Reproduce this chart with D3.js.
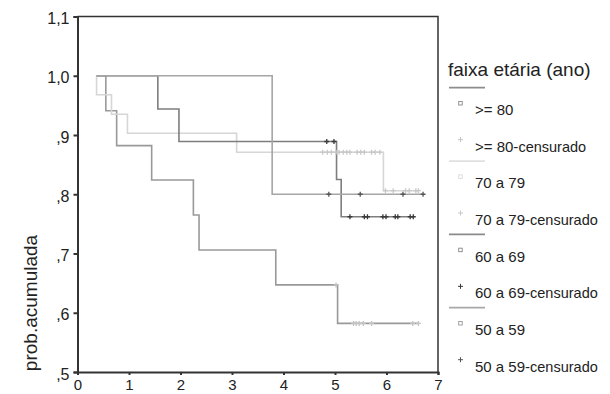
<!DOCTYPE html>
<html>
<head>
<meta charset="utf-8">
<script src="https://cdn.jsdelivr.net/npm/d3@7"></script>
<style>
  body { margin: 0; background: #fff; }
  svg { display: block; font-family: "Liberation Sans", Arial, sans-serif; }
</style>
</head>
<body>
<div id="chart"></div>
<script>
const width = 610;
const height = 394;

// groups, in legend order
const groups = [">= 80", "70 a 79", "60 a 69", "50 a 59"];
const startTime = 0.37;

// step times / survival after each drop, censored times
const events80 = [0.55, 0.76, 1.44, 2.25, 2.36, 3.85, 5.05];
const surv80 = [0.941, 0.882, 0.824, 0.765, 0.706, 0.647, 0.582];
const censor80 = [5.02, 5.36, 5.41, 5.47, 5.55, 5.71, 6.51, 6.62];

const events70 = [0.37, 0.66, 0.97, 3.09, 5.94];
const surv70 = [0.968, 0.935, 0.903, 0.871, 0.806];
const censor70 = [4.76, 4.85, 4.93, 5.02, 5.08, 5.16, 5.23, 5.29, 5.43, 5.50, 5.57, 5.71, 5.78, 5.87,
                  5.98, 6.13, 6.37, 6.44, 6.57, 6.62];

const events60 = [1.56, 1.97, 5.03, 5.12];
const surv60 = [0.944, 0.889, 0.825, 0.762];
const censor60 = [4.84, 4.98, 5.29, 5.57, 5.63, 5.93, 5.99, 6.17, 6.22, 6.46, 6.52];

const events50 = [3.78];
const surv50 = [0.8];
const censor50 = [4.88, 5.49, 6.32, 6.71];

const yTicks = [0.5, 0.6, 0.7, 0.8, 0.9, 1.0, 1.1];
const xTicks = [0, 1, 2, 3, 4, 5, 6, 7];

const lineColor = ["#999", "#d6d6d6", "#7e7e7e", "#a6a6a6"];
const markColor = ["#c4c4c4", "#c8c8c8", "#3a3a3a", "#555"];
const legendLine = ["#8c8c8c", "#e0e0e0", "#8a8a8a", "#a8a8a8"];
const legendSquare = ["#888", "#dadada", "#888", "#999"];

const data = [
  {events: events80, surv: surv80, censor: censor80},
  {events: events70, surv: surv70, censor: censor70},
  {events: events60, surv: surv60, censor: censor60},
  {events: events50, surv: surv50, censor: censor50}
];

const x = d3.scaleLinear().domain([0, 7]).range([77.5, 438]);
const y = d3.scaleLinear().domain([0.5, 1.1]).range([372, 16.5]);

const svg = d3.select("#chart")
    .append("svg")
    .attr("width", width)
    .attr("height", height)
    .attr("viewBox", [0, 0, width, height]);

const commaFmt = v => d3.format(".1f")(v).replace(/^0\./, ",").replace(".", ",");

// frame top/right
svg.append("path")
    .attr("d", `M${x(0)},${y(1.1)}H${x(7)}V${y(0.5)}`)
    .attr("fill", "none")
    .attr("stroke", "#333")
    .attr("stroke-width", 1.5);

// curves
const line = d3.line()
    .x(d => x(d[0]))
    .y(d => y(d[1]))
    .curve(d3.curveStepAfter);

data.forEach((g, i) => {
  const last = Math.max(d3.max(g.censor), d3.max(g.events));
  const pts = [[startTime, 1]];
  g.events.forEach((t, k) => pts.push([t, g.surv[k]]));
  pts.push([last, g.surv[g.surv.length - 1]]);
  svg.append("path")
      .attr("d", line(pts))
      .attr("fill", "none")
      .attr("stroke", lineColor[i])
      .attr("stroke-width", 1.6);
});

// censor marks
data.forEach((g, i) => {
  const survAt = t => {
    let s = 1;
    g.events.forEach((e, k) => { if (e <= t) s = g.surv[k]; });
    return s;
  };
  svg.append("g")
    .selectAll("path")
    .data(g.censor)
    .join("path")
      .attr("d", t => {
        const cx = x(t), cy = y(survAt(t));
        return `M${cx - 2.5},${cy}H${cx + 2.5}M${cx},${cy - 2.5}V${cy + 2.5}`;
      })
      .attr("stroke", markColor[i])
      .attr("stroke-width", 1.3);
});

// axes
const yAxis = svg.append("g")
    .attr("transform", `translate(${x(0)},0)`)
    .call(d3.axisLeft(y).tickValues(yTicks).tickSize(4).tickFormat(commaFmt));
const xAxis = svg.append("g")
    .attr("transform", `translate(0,${y(0.5)})`)
    .call(d3.axisBottom(x).tickValues(xTicks).tickSize(3).tickFormat(d3.format("d")));

[yAxis, xAxis].forEach(a => {
  a.select(".domain").attr("stroke", "#333").attr("stroke-width", 2);
  a.selectAll(".tick line").attr("stroke", "#333").attr("stroke-width", 2);
  a.selectAll("text")
      .attr("fill", "#222")
      .style("font-family", "'Liberation Sans', Arial, sans-serif");
});
yAxis.selectAll("text").attr("x", -8).attr("dy", "0.45em").style("font-size", "16px");
xAxis.selectAll("text").attr("y", 18).attr("dy", 0).style("font-size", "15px");

svg.append("text")
    .attr("transform", `translate(37,303) rotate(-90)`)
    .attr("text-anchor", "middle")
    .attr("fill", "#222")
    .style("font-size", "19px")
    .text("prob.acumulada");

// legend
const legend = svg.append("g");
legend.append("text")
    .attr("x", 448)
    .attr("y", 76)
    .attr("fill", "#222")
    .style("font-size", "19px")
    .text("faixa etária (ano)");

const step = 36.67;
groups.forEach((name, i) => {
  const b1 = 115 + step * 2 * i;
  const b2 = b1 + step;
  legend.append("line")
      .attr("x1", 449).attr("x2", 485)
      .attr("y1", b1 - 27.3).attr("y2", b1 - 27.3)
      .attr("stroke", legendLine[i])
      .attr("stroke-width", 1.8);
  legend.append("rect")
      .attr("x", 458.7).attr("y", b1 - 13.5)
      .attr("width", 3.5).attr("height", 3.5)
      .attr("fill", "none")
      .attr("stroke", legendSquare[i])
      .attr("stroke-width", 0.9);
  legend.append("path")
      .attr("d", `M${458},${b2 - 12}H${463}M${460.5},${b2 - 14.5}V${b2 - 9.5}`)
      .attr("stroke", markColor[i])
      .attr("stroke-width", 1);
  legend.append("text")
      .attr("x", 475).attr("y", b1)
      .attr("fill", "#222")
      .style("font-size", "15px")
      .text(name);
  const t = legend.append("text")
      .attr("x", 475).attr("y", b2)
      .attr("fill", "#222")
      .style("font-size", "15px");
  t.append("tspan").text(name + "-");
  t.append("tspan").style("font-size", "14.5px").text("censurado");
});
</script>
</body>
</html>
